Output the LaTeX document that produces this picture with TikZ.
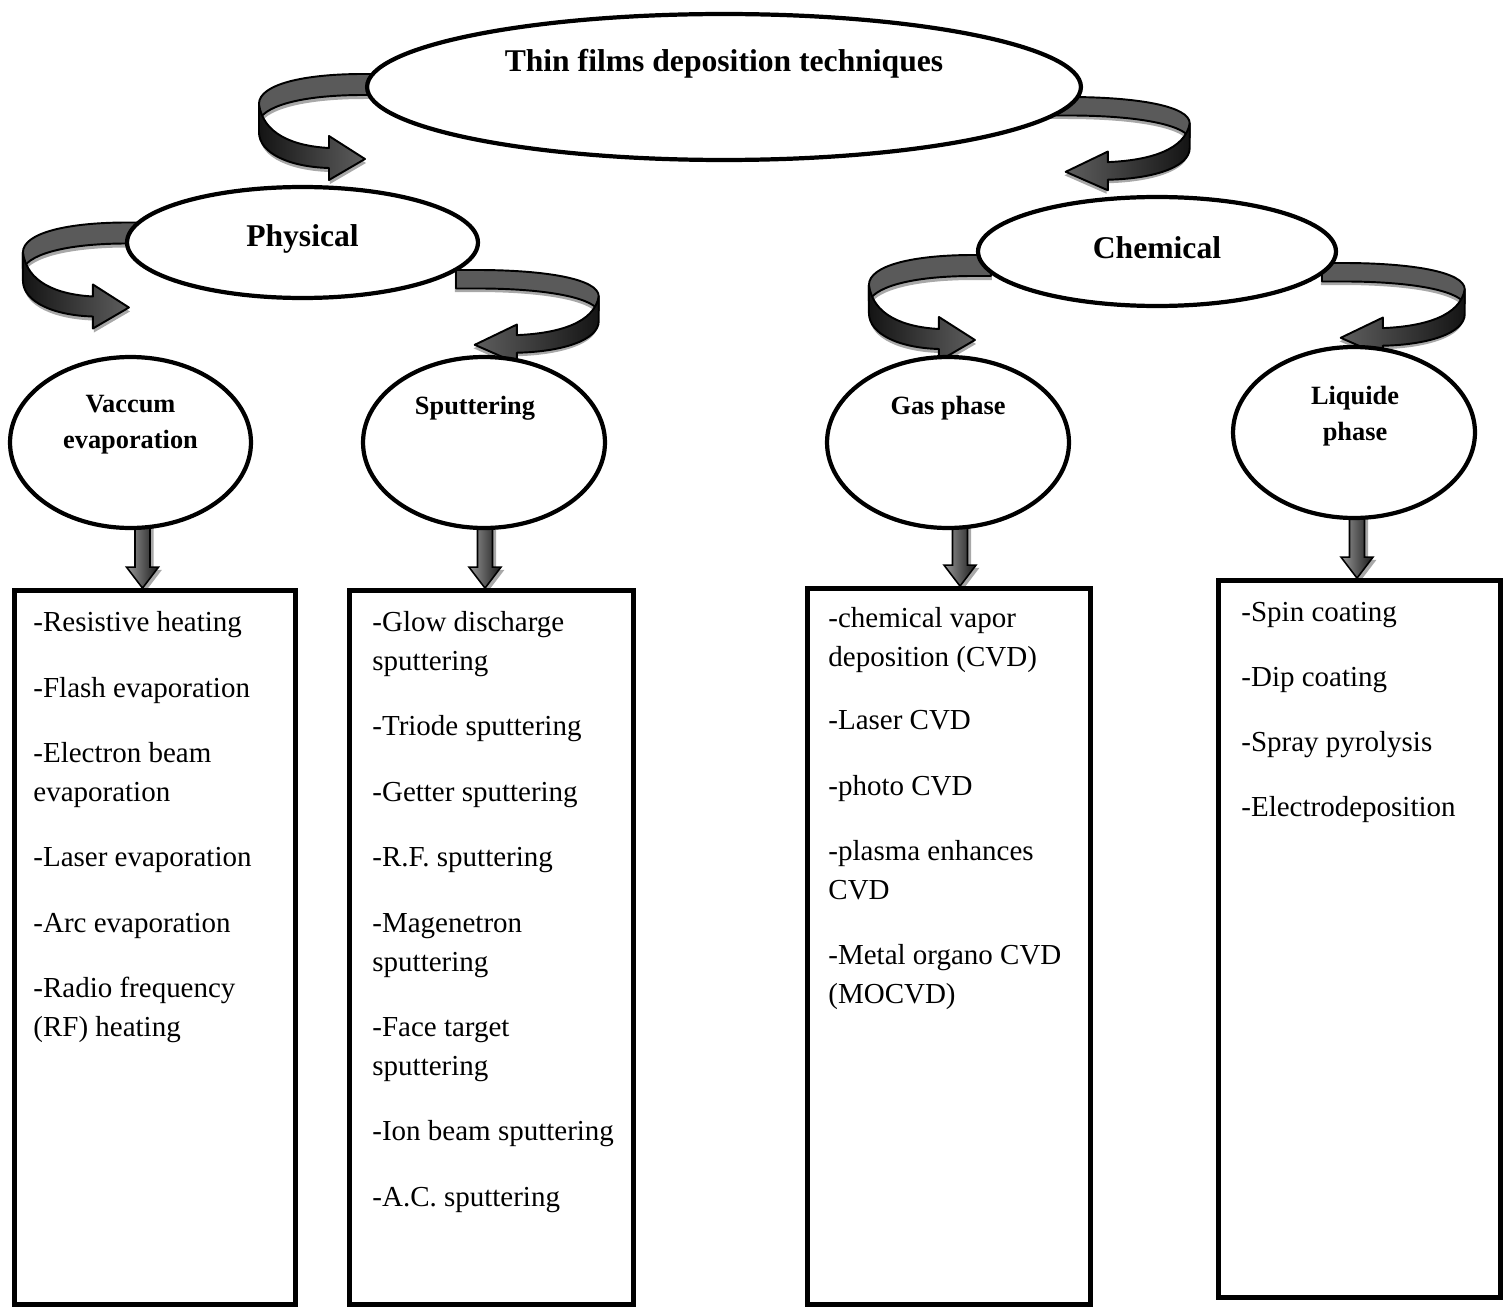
\documentclass[tikz,border=0pt]{standalone}
\usepackage{fontspec}
\setmainfont{Liberation Serif}
\usetikzlibrary{calc,backgrounds,shapes.geometric}
\definecolor{ribbongray}{HTML}{5A5A5A}
\definecolor{ribbondark}{HTML}{141414}
\definecolor{ribbonmid}{HTML}{5E5E5E}
\definecolor{shadowgray}{HTML}{A8A8A8}
\tikzset{
  oval/.style={ellipse,draw=black,line width=2.4pt,fill=white,inner sep=0pt},
  heading/.style={font=\fontsize{18}{22}\selectfont\bfseries,align=center},
  subhead/.style={font=\fontsize{15}{20.4}\selectfont\bfseries,align=center},
  listbox/.style={draw=black,line width=2.8pt,fill=white,inner sep=0pt},
  listtext/.style={font=\fontsize{16.5}{22}\selectfont,align=left,anchor=north west,inner sep=0pt},
  ribbon/.style={draw=black,line width=1.1pt,line join=round},
  ribbonshadow/.style={fill=shadowgray},
  ribbonfrontL/.style={left color=ribbondark,right color=ribbonmid},
  ribbonfrontR/.style={left color=ribbonmid,right color=ribbondark},
  downarrow/.style={draw=black,line width=0.9pt,left color=black!40,right color=black!90}
}
\newcommand\backband{(18,0) -- (0,0) .. controls (-58,0) and (-104,10) .. (-104,30) -- (-104,46) .. controls (-96,30) and (-55,21) .. (0,21) -- (18,21) -- cycle}
\newcommand\frontband{(-104,30) -- (-104,58) .. controls (-104,80) and (-72,93) .. (-34,94) -- (-34,106) -- (2,85) -- (-34,62) -- (-34,74) .. controls (-70,72) and (-100,60) .. (-104,30) -- cycle}
% #1 placement, #2 shading of the lower part
\newcommand\curlarrow[2]{%
  \begin{scope}[#1]
    \fill[ribbonshadow,shift={(1,4)}] \backband;
    \fill[ribbonshadow,shift={(1,4)}] \frontband;
    \draw[ribbon,fill=ribbongray] \backband;
    \draw[ribbon,#2] \frontband;
  \end{scope}}
% #1 x offset, #2 oval, #3 box
\newcommand\blockdown[3]{%
  \coordinate (#2tip) at ($(#2.center |- #3.north)+(#1,0)$);
  \coordinate (#2top) at ($(#2.center |- #2.south)+(#1,-10)$);
  \def\blockpath{($(#2top)+(-7.5,0)$) -- ($(#2tip)+(-7.5,-21)$) -- ($(#2tip)+(-16,-21)$) -- (#2tip)
    -- ($(#2tip)+(16,-21)$) -- ($(#2tip)+(7.5,-21)$) -- ($(#2top)+(7.5,0)$) -- cycle}
  \fill[shadowgray,transform canvas={xshift=2pt,yshift=-1.5pt}] \blockpath;
  \draw[downarrow] \blockpath;}

\begin{document}
\begin{tikzpicture}[x=0.02cm,y=-0.02cm]
  \useasboundingbox (0,0) rectangle (1507,1311);

  \node[oval,minimum width=14.28cm,minimum height=2.92cm] (techniques) at (724,87) {};
  \node[heading] (techniquestxt) at ($(techniques)+(0,-23)$) {Thin films deposition techniques};

  \node[oval,minimum width=7.02cm,minimum height=2.22cm] (physical) at (302.5,242.5) {};
  \node[heading] (physicaltxt) at ($(physical)+(0,-4)$) {Physical};
  \node[oval,minimum width=7.16cm,minimum height=2.18cm] (chemical) at (1157,251.5) {};
  \node[heading] (chemicaltxt) at ($(chemical)+(0,-4)$) {Chemical};

  \node[oval,minimum width=4.82cm,minimum height=3.42cm] (vacuum) at (130.5,442.5) {};
  \node[subhead] (vacuumtxt) at ($(vacuum)+(0,-17.5)$) {Vaccum\\evaporation};
  \node[oval,minimum width=4.84cm,minimum height=3.42cm] (sputter) at (484,442.5) {};
  \node[subhead] (sputtertxt) at ($(sputter)+(-9,-34.5)$) {Sputtering};
  \node[oval,minimum width=4.84cm,minimum height=3.42cm] (gas) at (948,442.5) {};
  \node[subhead] (gastxt) at ($(gas)+(0,-34.5)$) {Gas phase};
  \node[oval,minimum width=4.84cm,minimum height=3.42cm] (liquid) at (1354,432.5) {};
  \node[subhead] (liquidtxt) at ($(liquid)+(1,-16.5)$) {Liquide\\phase};

  \node[listbox,minimum width=5.62cm,minimum height=14.28cm] (vacbox) at (155,947.5) {};
  \node[listtext] (vaclist) at ($(vacbox.north west)+(21,23)$) {-Resistive heating\\[15.3pt]
    -Flash evaporation\\[15.3pt]
    -Electron beam\\evaporation\\[15.3pt]
    -Laser evaporation\\[15.3pt]
    -Arc evaporation\\[15.3pt]
    -Radio frequency\\(RF) heating};
  \node[listbox,minimum width=5.68cm,minimum height=14.28cm] (sputbox) at (491.5,947.5) {};
  \node[listtext] (sputlist) at ($(sputbox.north west)+(25,23)$) {-Glow discharge\\sputtering\\[15.3pt]
    -Triode sputtering\\[15.3pt]
    -Getter sputtering\\[15.3pt]
    -R.F. sputtering\\[15.3pt]
    -Magenetron\\sputtering\\[15.3pt]
    -Face target\\sputtering\\[15.3pt]
    -Ion beam sputtering\\[15.3pt]
    -A.C. sputtering};
  \node[listbox,minimum width=5.66cm,minimum height=14.32cm] (gasbox) at (949,946.5) {};
  \node[listtext] (gaslist) at ($(gasbox.north west)+(23,21)$) {-chemical vapor\\deposition (CVD)\\[14pt]
    -Laser CVD\\[15.3pt]
    -photo CVD\\[15.3pt]
    -plasma enhances\\CVD\\[15.3pt]
    -Metal organo CVD\\(MOCVD)};
  \node[listbox,minimum width=5.64cm,minimum height=14.34cm] (liqbox) at (1359.5,939) {};
  \node[listtext] (liqlist) at ($(liqbox.north west)+(25,24)$) {-Spin coating\\[15pt]
    -Dip coating\\[15pt]
    -Spray pyrolysis\\[15pt]
    -Electrodeposition};

  \begin{scope}[on background layer]
    \curlarrow{shift={($(techniques.west)+(-2,-13)$)}}{ribbonfrontL}
    \curlarrow{shift={($(techniques.east)+(-15,10)$)},xscale=-1.17,yscale=0.88}{ribbonfrontR}
    \curlarrow{shift={($(physical.west)+(2,-20)$)}}{ribbonfrontL}
    \curlarrow{shift={($(physical.east)+(-3,27.5)$)},xscale=-1.17,yscale=0.88}{ribbonfrontR}
    \curlarrow{shift={($(chemical.west)+(-3,3.5)$)}}{ribbonfrontL}
    \curlarrow{shift={($(chemical.east)+(5,11.5)$)},xscale=-1.17,yscale=0.88}{ribbonfrontR}
    \blockdown{12}{vacuum}{vacbox}
    \blockdown{1}{sputter}{sputbox}
    \blockdown{12}{gas}{gasbox}
    \blockdown{3}{liquid}{liqbox}
  \end{scope}
\end{tikzpicture}
\end{document}
